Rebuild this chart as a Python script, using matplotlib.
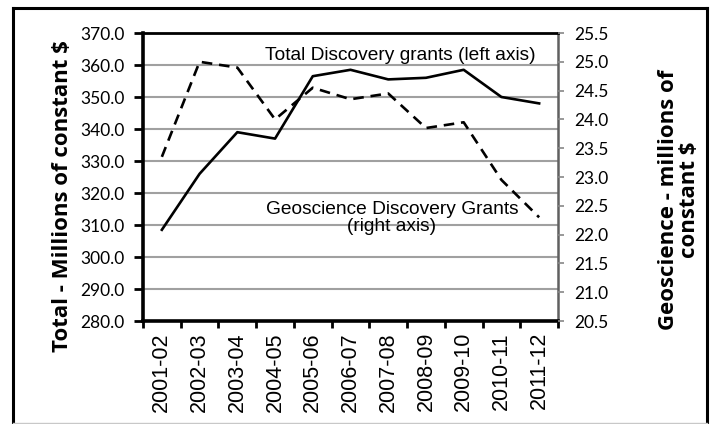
import matplotlib
matplotlib.use("Agg")
import matplotlib.pyplot as plt
from matplotlib.lines import Line2D

years = ["2001-02", "2002-03", "2003-04", "2004-05", "2005-06", "2006-07",
         "2007-08", "2008-09", "2009-10", "2010-11", "2011-12"]
total = [308.5, 326.0, 339.0, 337.0, 356.5, 358.5, 355.5, 356.0, 358.5, 350.0, 348.0]
geo = [23.35, 25.0, 24.9, 24.0, 24.55, 24.35, 24.45, 23.85, 23.95, 22.95, 22.3]
left_ticks = [280, 290, 300, 310, 320, 330, 340, 350, 360, 370]
right_ticks = [20.5, 21.0, 21.5, 22.0, 22.5, 23.0, 23.5, 24.0, 24.5, 25.0, 25.5]

ytick_font = "Lato"
xtick_font = "Liberation Sans"

fig = plt.figure(figsize=(7.14, 4.24), dpi=100)
W, H = 714, 424
# figure frame
fig.add_artist(Line2D([13/W, 13/W], [0, 1-8/H], transform=fig.transFigure, color="black", lw=2.2))
fig.add_artist(Line2D([707/W, 707/W], [0, 1-8/H], transform=fig.transFigure, color="black", lw=2.2))
fig.add_artist(Line2D([13/W, 707/W], [1-8/H, 1-8/H], transform=fig.transFigure, color="black", lw=2.2))
fig.add_artist(Line2D([13/W, 707/W], [1-423/H, 1-423/H], transform=fig.transFigure, color="#c8c8c8", lw=1.0))

ax = fig.add_axes([143/W, 1-321/H, (558-143)/W, (321-33)/H])
x = list(range(len(years)))
ax.set_xlim(-0.5, len(years)-0.5)
ax.set_ylim(280, 370)
ax.set_yticks(left_ticks)
ax.set_yticklabels([f"{v:.1f}" for v in left_ticks], fontfamily=ytick_font, fontsize=12.5)
ax.yaxis.grid(True, color="#a0a0a0", linewidth=1.5)
ax.set_axisbelow(True)
ax.set_xticks([i - 0.5 for i in range(len(years)+1)], minor=False)
ax.set_xticklabels([""]*(len(years)+1))
ax.set_xticks(x, minor=True)
ax.set_xticklabels(years, minor=True, rotation=90, fontfamily=xtick_font, fontsize=15.5)
ax.tick_params(axis="x", which="minor", length=0, pad=8)
ax.tick_params(axis="x", which="major", length=5, width=2, direction="out")
ax.tick_params(axis="y", length=6.5, width=2, direction="out", pad=6.5)
for s in ["left", "bottom"]:
    ax.spines[s].set_linewidth(2.6)
ax.spines["top"].set_color("black")
ax.spines["top"].set_linewidth(2.0)
ax.spines["right"].set_color("#606060")
ax.spines["right"].set_linewidth(1.8)
ax.plot(x, total, color="black", linewidth=1.9)
ax.set_ylabel("Total - Millions of constant $", fontfamily="Open Sans", fontweight="bold",
              fontsize=16)
ax.yaxis.set_label_coords(-0.168, 0.434)

ax2 = ax.twinx()
ax2.set_ylim(20.5, 25.5)
ax2.set_yticks(right_ticks)
ax2.set_yticklabels([f"{v:.1f}" for v in right_ticks], fontfamily=ytick_font, fontsize=12.5)
ax2.tick_params(axis="y", length=4, width=1.2, color="#888888", direction="out", pad=8)
for s in ax2.spines.values():
    s.set_visible(False)
ax2.plot(x, geo, color="black", linewidth=1.9, dashes=(4, 2.6))
ax2.set_ylabel("Geoscience - millions of\nconstant $", fontfamily="Open Sans",
               fontweight="bold", fontsize=16, linespacing=1.0, rotation=90)
ax2.yaxis.set_label_coords(1.24, 0.42)

ax.text(6.31, 363.1, "Total Discovery grants (left axis)", fontfamily=xtick_font,
        fontsize=13.8, ha="center", va="center")
ax.text(6.1, 312.2, "Geoscience Discovery Grants\n(right axis)", fontfamily=xtick_font,
        fontsize=13.8, ha="center", va="center", linespacing=1.0)

fig.savefig("out.png", dpi=100)
